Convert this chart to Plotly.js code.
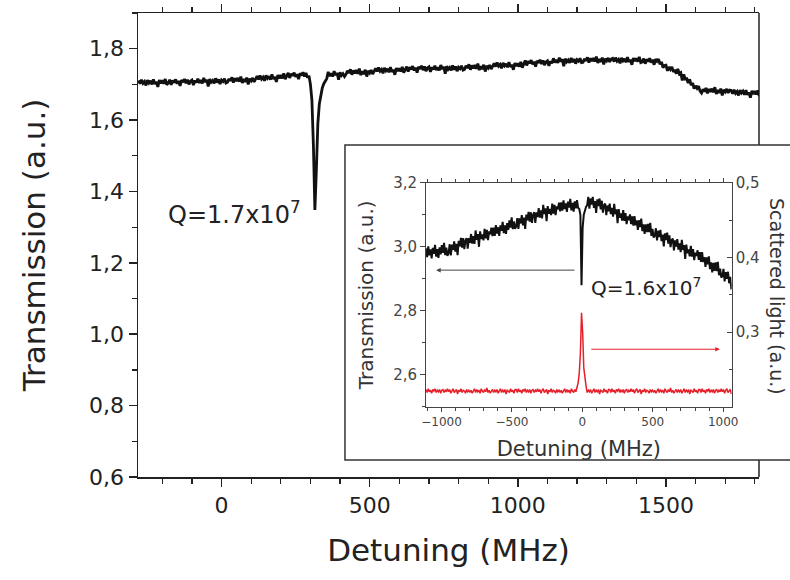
<!DOCTYPE html>
<html>
<head>
<meta charset="utf-8">
<script src="https://cdn.plot.ly/plotly-3.0.1.min.js"></script>
<style>html,body{margin:0;padding:0;background:#fff;}#chart{width:790px;height:580px;}</style>
</head>
<body>
<div id="chart"></div>
<script>
// ---- Main trace: detuning grid start/step (MHz) and transmission values (a.u.)
const mainStart = -280;
const mainStep = 5;
const mainTransmission = [
1.711,1.702,1.713,1.703,1.708,1.697,1.712,1.704,1.710,1.700,1.714,1.701,1.707,1.693,1.712,1.703,1.711,1.702,1.715,1.699,
1.704,1.713,1.699,1.711,1.705,1.714,1.702,1.710,1.696,1.712,1.706,1.715,1.703,1.713,1.700,1.709,1.712,1.698,1.711,1.705,
1.716,1.704,1.712,1.703,1.718,1.707,1.713,1.694,1.715,1.706,1.711,1.703,1.717,1.705,1.714,1.701,1.712,1.708,1.716,1.704,
1.706,1.716,1.710,1.720,1.705,1.717,1.709,1.718,1.708,1.722,1.704,1.715,1.707,1.719,1.700,1.716,1.710,1.718,1.707,1.715,
1.723,1.714,1.725,1.715,1.720,1.710,1.725,1.717,1.723,1.713,1.728,1.715,1.721,1.707,1.726,1.717,1.726,1.717,1.731,1.715,
1.723,1.732,1.718,1.730,1.724,1.733,1.721,1.729,1.715,1.731,1.725,1.734,1.722,1.732,1.719,
1.724,1.700,1.655,1.530,1.348,1.460,1.590,1.645,1.675,1.690,1.702,1.710,1.716,
1.735,1.723,1.731,1.722,1.737,1.726,1.732,1.713,1.734,1.725,1.730,1.722,
1.728,1.738,1.732,1.742,1.727,1.739,1.731,1.740,1.730,1.744,1.726,1.737,1.729,1.741,1.722,1.738,1.732,1.740,1.729,1.737,
1.745,1.736,1.747,1.737,1.742,1.731,1.746,1.738,1.744,1.734,1.748,1.735,1.741,1.727,1.746,1.737,1.745,1.736,1.749,1.733,
1.741,1.750,1.736,1.748,1.742,1.751,1.739,1.747,1.733,1.749,1.743,1.752,1.740,1.750,1.737,1.746,1.749,1.735,1.748,1.742,
1.752,1.740,1.748,1.739,1.754,1.743,1.749,1.730,1.751,1.742,1.747,1.739,1.753,1.741,1.750,1.737,1.748,1.744,1.752,1.740,
1.742,1.752,1.746,1.756,1.741,1.753,1.745,1.754,1.744,1.758,1.740,1.751,1.743,1.755,1.736,1.752,1.746,1.754,1.743,1.751,
1.759,1.750,1.761,1.751,1.756,1.745,1.760,1.752,1.758,1.748,1.762,1.749,1.755,1.741,1.760,1.751,1.759,1.750,1.763,1.747,
1.758,1.767,1.753,1.765,1.759,1.768,1.756,1.764,1.750,1.766,1.760,1.769,1.757,1.767,1.754,1.763,1.766,1.752,1.765,1.759,
1.773,1.761,1.769,1.760,1.775,1.764,1.770,1.751,1.772,1.763,1.768,1.760,1.774,1.762,1.771,1.758,1.769,1.765,1.773,1.761,
1.762,1.772,1.766,1.776,1.761,1.773,1.765,1.774,1.764,1.778,1.760,1.771,1.763,1.775,1.756,1.772,1.766,1.774,1.763,1.771,
1.773,1.764,1.775,1.765,1.770,1.759,1.774,1.766,1.772,1.762,1.776,1.763,1.769,1.755,1.774,1.765,1.773,1.764,1.777,1.761,
1.763,1.772,1.758,1.770,1.764,1.773,1.761,1.769,1.755,1.771,1.765,1.771,1.756,1.763,1.747,1.753,1.754,1.738,1.749,1.742,
1.749,1.735,1.741,1.730,1.743,1.730,1.733,1.711,1.728,1.715,1.716,1.704,1.714,1.698,1.704,1.688,1.696,1.689,1.695,1.681,
1.676,1.686,1.680,1.690,1.675,1.687,1.679,1.688,1.678,1.692,1.673,1.684,1.676,1.688,1.669,1.685,1.679,1.687,1.676,1.684,
1.683,1.674,1.685,1.675,1.680,1.669,1.684,1.676,1.681,1.671,1.684,1.671,1.677,1.663,1.682,1.673,1.681,1.672,1.683,1.667
];

// ---- Inset: detuning grid start/step (MHz)
const insetStart = -1110;
const insetStep = 8;
// Inset transmission (a.u., left axis)
const insetTransmission = [
2.995,2.968,3.001,2.973,2.992,2.964,2.997,2.978,3.006,2.969,2.993,2.965,2.998,2.976,3.005,2.981,3.012,2.974,2.997,2.972,
2.980,3.008,2.973,3.007,2.990,3.017,2.985,3.009,2.974,3.019,3.001,3.028,2.997,3.027,2.993,3.019,3.027,2.994,3.027,3.012,
3.040,3.010,3.033,3.009,3.051,3.022,3.040,3.000,3.048,3.024,3.039,3.020,3.056,3.026,3.053,3.021,3.048,3.039,3.060,3.033,
3.060,3.034,3.068,3.041,3.061,3.034,3.067,3.050,3.078,3.043,3.067,3.040,3.074,3.053,3.083,3.060,3.092,3.055,3.079,3.056,
3.063,3.090,3.056,3.089,3.073,3.099,3.067,3.091,3.056,3.101,3.083,3.109,3.079,3.108,3.075,3.100,3.108,3.075,3.108,3.093,
3.121,3.091,3.114,3.089,3.131,3.102,3.120,3.080,3.127,3.103,3.118,3.099,3.135,3.104,3.131,3.099,3.126,3.117,3.138,3.111,
3.139,3.113,3.145,3.118,3.136,3.109,3.141,3.123,3.150,3.114,3.137,3.110,3.142,3.120,3.146,3.122,3.118,3.100,2.880,3.060,3.100,3.115,3.125,
3.130,3.156,3.119,3.151,3.132,3.156,3.122,3.143,3.106,3.148,3.127,3.151,3.117,3.144,3.107,3.130,3.135,3.099,3.129,3.111,
3.135,3.102,3.122,3.094,3.134,3.102,3.117,3.074,3.118,3.091,3.104,3.082,3.115,3.081,3.105,3.071,3.095,3.083,3.101,3.071,
3.095,3.066,3.096,3.067,3.083,3.053,3.083,3.062,3.088,3.049,3.070,3.040,3.070,3.046,3.072,3.046,3.075,3.034,3.056,3.029,
3.034,3.058,3.020,3.050,3.030,3.053,3.018,3.038,3.001,3.042,3.021,3.044,3.010,3.036,2.999,3.021,3.026,2.989,3.020,3.001,
3.024,2.991,3.011,2.983,3.022,2.990,3.005,2.962,3.007,2.980,2.992,2.970,3.003,2.969,2.993,2.958,2.982,2.971,2.989,2.959,
2.983,2.953,2.983,2.952,2.968,2.937,2.967,2.945,2.970,2.930,2.951,2.920,2.950,2.925,2.951,2.924,2.953,2.911,2.932,2.904,
2.908,2.931,2.892,2.921,2.900,2.922,2.886,2.906,2.867
];
// Inset scattered light (a.u., right axis)
const insetScattered = [
0.223,0.219,0.224,0.220,0.222,0.218,0.223,0.221,0.224,0.219,0.222,0.220,0.223,0.218,0.222,0.223,0.219,0.222,0.220,0.224,
0.220,0.223,0.218,0.222,0.224,0.219,0.221,0.223,0.217,0.222,0.220,0.224,0.219,0.222,0.221,0.218,0.223,0.220,0.222,0.219,
0.222,0.218,0.221,0.224,0.219,0.223,0.220,0.222,0.218,0.224,0.221,0.219,0.223,0.220,0.225,0.219,0.222,0.218,0.221,0.223,
0.219,0.222,0.220,0.223,0.218,0.221,0.224,0.219,0.222,0.220,0.223,0.217,0.222,0.221,0.219,0.224,0.220,0.222,0.218,0.223,
0.223,0.219,0.224,0.220,0.222,0.218,0.223,0.221,0.224,0.219,0.222,0.220,0.223,0.218,0.222,0.223,0.219,0.222,0.220,0.224,
0.220,0.223,0.218,0.222,0.224,0.219,0.221,0.223,0.217,0.222,0.220,0.224,0.219,0.222,0.221,0.218,0.223,0.220,0.222,0.219,
0.222,0.218,0.221,0.224,0.219,0.223,0.220,0.222,0.218,0.224,0.221,0.219,0.223,0.220,
0.226,0.232,0.245,0.272,0.326,0.300,0.252,0.236,0.228,
0.219,0.222,0.220,0.223,0.218,0.221,0.224,0.219,0.222,0.220,0.223,0.217,0.222,0.221,0.219,0.224,0.220,0.222,0.218,0.223,
0.223,0.219,0.224,0.220,0.222,0.218,0.223,0.221,0.224,0.219,0.222,0.220,0.223,0.218,0.222,0.223,0.219,0.222,0.220,0.224,
0.220,0.223,0.218,0.222,0.224,0.219,0.221,0.223,0.217,0.222,0.220,0.224,0.219,0.222,0.221,0.218,0.223,0.220,0.222,0.219,
0.222,0.218,0.221,0.224,0.219,0.223,0.220,0.222,0.218,0.224,0.221,0.219,0.223,0.220,0.225,0.219,0.222,0.218,0.221,0.223,
0.219,0.222,0.220,0.223,0.218,0.221,0.224,0.219,0.222,0.220,0.223,0.217,0.222,0.221,0.219,0.224,0.220,0.222,0.218,0.223,
0.223,0.219,0.224,0.220,0.222,0.218,0.223,0.221,0.224,0.219,0.222,0.220,0.223,0.218,0.222,0.223,0.219,0.222,0.220,0.224,
0.220,0.223,0.218,0.222,0.224,0.219,0.221,0.223,0.217
];
const insetRightTicks = [0.3, 0.4, 0.5];

// Labels
const mainXTitle = 'Detuning (MHz)';
const mainYTitle = 'Transmission (a.u.)';
const insetXTitle = 'Detuning (MHz)';
const insetYTitle = 'Transmission (a.u.)';
const insetY2Title = 'Scattered light (a.u.)';
const mainQLabel = 'Q=1.7x10<sup>7</sup>';
const insetQLabel = 'Q=1.6x10<sup>7</sup>';

const FONT = 'DejaVu Sans, Arial, sans-serif';

const traces = [
  { type:'scatter', mode:'lines', x0:mainStart, dx:mainStep, y:mainTransmission,
    xaxis:'x', yaxis:'y', line:{color:'#111', width:2.8}, hoverinfo:'skip', showlegend:false },
  { type:'scatter', mode:'lines', x0:insetStart, dx:insetStep, y:insetTransmission,
    xaxis:'x2', yaxis:'y2', line:{color:'#111', width:2}, hoverinfo:'skip', showlegend:false },
  { type:'scatter', mode:'lines', x0:insetStart, dx:insetStep, y:insetScattered,
    xaxis:'x2', yaxis:'y3', line:{color:'#e5202a', width:1.5}, hoverinfo:'skip', showlegend:false }
];

const layout = {
  width:790, height:580,
  margin:{l:138, r:31, t:13, b:103},
  paper_bgcolor:'#fff', plot_bgcolor:'#fff',
  separators:',.',
  font:{family:FONT, color:'#222'},
  showlegend:false,
  xaxis:{
    domain:[0,1], anchor:'y', range:[-282,1814],
    tick0:0, dtick:500, ticks:'outside', ticklen:8, tickwidth:1.5, tickcolor:'#222',
    minor:{dtick:100, ticks:'outside', ticklen:5, tickwidth:1.2, tickcolor:'#222'},
    showline:true, linecolor:'#222', linewidth:1.5, mirror:'ticks',
    showgrid:false, zeroline:false,
    tickfont:{family:FONT, size:22, color:'#222'},
    title:{text:mainXTitle, font:{family:FONT, size:31, color:'#222'}, standoff:22}
  },
  yaxis:{
    domain:[0,1], anchor:'x', range:[0.6,1.9],
    tick0:0.6, dtick:0.2, tickformat:'.1f', ticks:'outside', ticklen:8, tickwidth:1.5, tickcolor:'#222',
    minor:{dtick:0.1, ticks:'outside', ticklen:5, tickwidth:1.2, tickcolor:'#222'},
    showline:true, linecolor:'#222', linewidth:1.5, mirror:false,
    showgrid:false, zeroline:false,
    tickfont:{family:FONT, size:22, color:'#222'},
    title:{text:mainYTitle, font:{family:FONT, size:31, color:'#222'}, standoff:34}
  },
  xaxis2:{
    domain:[0.4638,0.956], anchor:'y2', range:[-1110,1060],
    tick0:0, dtick:500, ticks:'outside', ticklen:4, tickwidth:1, tickcolor:'#444',
    minor:{dtick:100, ticks:'outside', ticklen:3, tickwidth:1, tickcolor:'#444'},
    showline:true, linecolor:'#444', linewidth:1, mirror:'ticks',
    showgrid:false, zeroline:false,
    tickfont:{family:FONT, size:12, color:'#444'},
    title:{text:insetXTitle, font:{family:FONT, size:21, color:'#333'}, standoff:13}
  },
  yaxis2:{
    domain:[0.1515,0.634], anchor:'x2', range:[2.5,3.2],
    tick0:2.6, dtick:0.2, tickformat:'.1f', ticks:'outside', ticklen:5, tickwidth:1, tickcolor:'#444',
    minor:{dtick:0.1, ticks:'outside', ticklen:3, tickwidth:1, tickcolor:'#444'},
    showline:true, linecolor:'#444', linewidth:1,
    showgrid:false, zeroline:false,
    tickfont:{family:FONT, size:15, color:'#444'},
    title:{text:insetYTitle, font:{family:FONT, size:20, color:'#333'}, standoff:14}
  },
  yaxis3:{
    overlaying:'y2', side:'right', anchor:'x2', range:[0.2,0.5],
    tickmode:'array', tickvals:insetRightTicks, tickformat:'.1f',
    ticks:'inside', ticklen:5, tickwidth:1, tickcolor:'#444',
    minor:{dtick:0.05, ticks:'inside', ticklen:3, tickwidth:1, tickcolor:'#444'},
    showline:true, linecolor:'#444', linewidth:1,
    showgrid:false, zeroline:false,
    tickfont:{family:FONT, size:15, color:'#444'}
  },
  shapes:[
    // main plot right frame (above and below the inset box)
    {type:'line', xref:'paper', yref:'paper', x0:1, x1:1, y0:0.7155, y1:1, line:{color:'#222', width:1.5}, layer:'below'},
    {type:'line', xref:'paper', yref:'paper', x0:1, x1:1, y0:0, y1:0.0366, line:{color:'#222', width:1.5}, layer:'below'},
    // inset frame
    {type:'rect', xref:'paper', yref:'paper', x0:0.3333, x1:1.06, y0:0.0366, y1:0.7155,
     line:{color:'#333', width:1.5}, fillcolor:'#fff', layer:'below'}
  ],
  annotations:[
    {xref:'x', yref:'y', x:-186, y:1.339, xanchor:'left', yanchor:'middle', showarrow:false,
     text:mainQLabel, font:{family:FONT, size:24, color:'#222'}},
    {xref:'x2', yref:'y2', x:48, y:2.874, xanchor:'left', yanchor:'middle', showarrow:false,
     text:insetQLabel, font:{family:FONT, size:20, color:'#222'}},
    {xref:'paper', yref:'paper', x:1.029, y:0.39, xanchor:'center', yanchor:'middle', showarrow:false,
     textangle:90, text:insetY2Title, font:{family:FONT, size:19, color:'#333'}},
    {xref:'x2', yref:'y2', x:-1038, y:2.927, axref:'x2', ayref:'y2', ax:-45, ay:2.927,
     showarrow:true, arrowhead:2, arrowsize:0.9, arrowwidth:1, arrowcolor:'#444', text:''},
    {xref:'x2', yref:'y3', x:976, y:0.277, axref:'x2', ayref:'y3', ax:53, ay:0.277,
     showarrow:true, arrowhead:2, arrowsize:0.9, arrowwidth:1, arrowcolor:'#e5202a', text:''}
  ]
};

Plotly.newPlot('chart', traces, layout, {staticPlot:true, displayModeBar:false});
</script>
</body>
</html>
